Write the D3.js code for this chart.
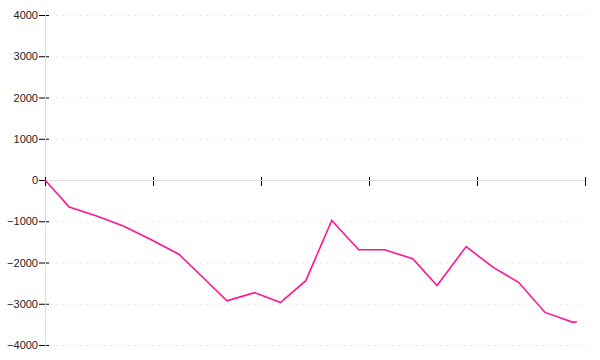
<!DOCTYPE html>
<html>
<head>
<meta charset="utf-8">
<script src="https://cdn.jsdelivr.net/npm/d3@7"></script>
<style>
  body { margin: 0; background: #fff; }
  .tick text { font-family: "Liberation Sans", Arial, sans-serif; font-size: 11px; fill: #222; }
</style>
</head>
<body>
<div id="chart"></div>
<script>
// x positions of the points (axis runs 0..100, unlabelled ticks every 20)
var xValues = [0, 4.5, 9.7, 14.6, 19.5, 24.8, 29.3, 33.7, 38.8, 43.6, 48.3,
  53.1, 58.1, 62.9, 68.1, 72.6, 78.0, 83.0, 87.7, 92.6, 97.8, 98.5];
// series values
var yValues = [0, -655, -880, -1120, -1435, -1800, -2370, -2930, -2730, -2970, -2440,
  -980, -1690, -1690, -1910, -2560, -1615, -2120, -2480, -3210, -3450, -3435];
var yTicks = [-4000, -3000, -2000, -1000, 0, 1000, 2000, 3000, 4000];
var xTicks = [0, 20, 40, 60, 80, 100];

var margin = { top: 15, right: 15, bottom: 15, left: 45 },
  width = 600 - margin.left - margin.right,
  height = 360 - margin.top - margin.bottom;

var svg = d3.select("#chart")
  .append("svg")
  .attr("width", 600)
  .attr("height", 360)
  .append("g")
  .attr("transform", "translate(" + margin.left + "," + margin.top + ")");

var x = d3.scaleLinear().domain([0, 100]).range([0, width]);
var y = d3.scaleLinear().domain([-4000, 4000]).range([height, 0]);

// dotted grid lines
svg.append("g")
  .selectAll("line")
  .data(yTicks.filter(function (d) { return d !== 0; }))
  .enter()
  .append("line")
  .attr("x1", 5)
  .attr("x2", width)
  .attr("y1", function (d) { return y(d) + 0.5; })
  .attr("y2", function (d) { return y(d) + 0.5; })
  .style("stroke", "#e8e8e8")
  .style("stroke-dasharray", "2,4");

// Y axis
var yAxis = svg.append("g")
  .call(d3.axisLeft(y).tickValues(yTicks).tickFormat(d3.format("d")).tickSize(6).tickPadding(1));
yAxis.select(".domain").remove();
yAxis.selectAll(".tick line").attr("x1", 4).attr("x2", -6).style("stroke", "#000");
svg.append("line")
  .attr("x1", 0.5).attr("x2", 0.5)
  .attr("y1", 0).attr("y2", height + 2)
  .style("stroke", "#ddd");

// X axis at zero
var xAxis = svg.append("g")
  .attr("transform", "translate(0," + y(0) + ")")
  .call(d3.axisBottom(x).tickValues(xTicks).tickFormat(""));
xAxis.select(".domain").remove();
xAxis.selectAll(".tick line").attr("y1", -3).attr("y2", 6).style("stroke", "#000");
svg.append("line")
  .attr("x1", 0).attr("x2", width)
  .attr("y1", y(0) + 0.5).attr("y2", y(0) + 0.5)
  .style("stroke", "#ddd");

// the line
var pts = xValues.map(function (d, i) { return [d, yValues[i]]; });
svg.append("path")
  .datum(pts)
  .attr("fill", "none")
  .attr("stroke", "#ff1493")
  .attr("stroke-width", 1.6)
  .attr("d", d3.line()
    .x(function (d) { return x(d[0]); })
    .y(function (d) { return y(d[1]); }));
</script>
</body>
</html>
